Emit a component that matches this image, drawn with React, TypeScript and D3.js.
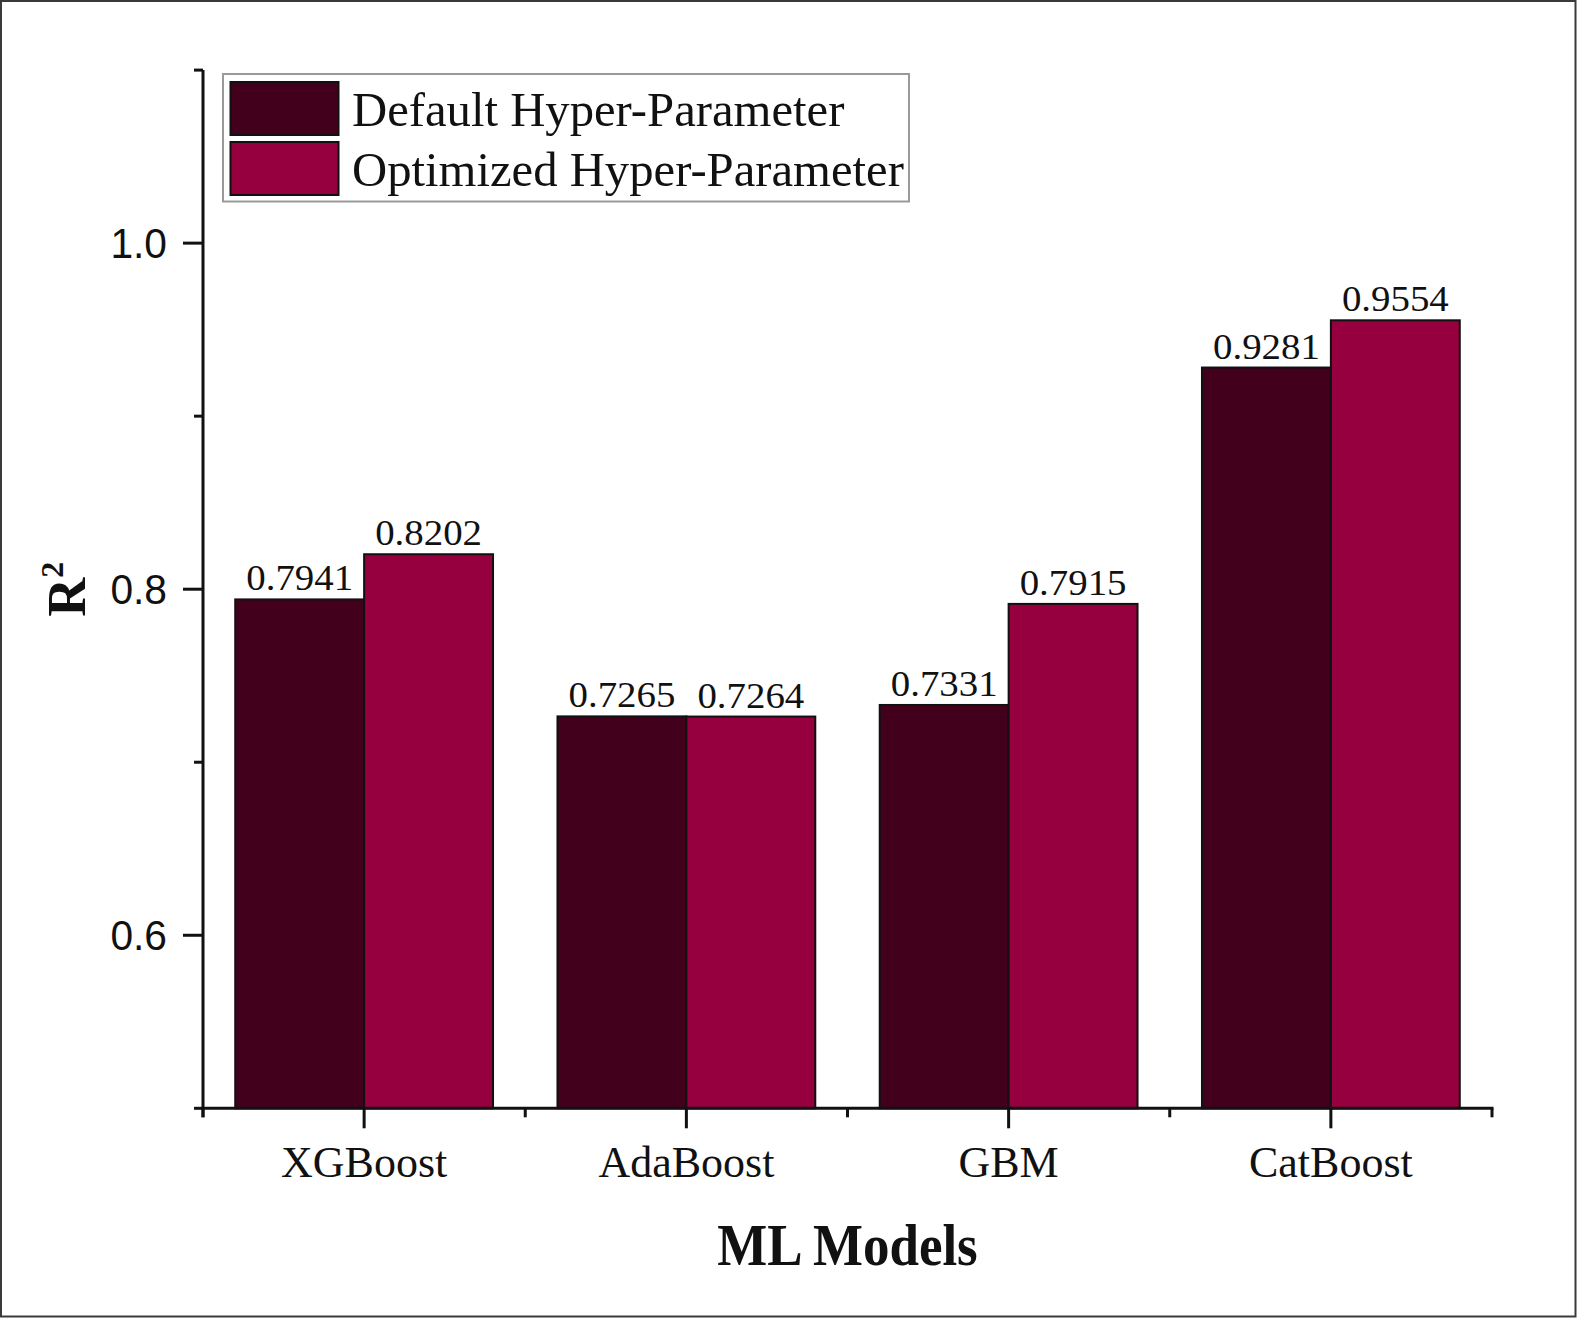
import React, { useEffect } from "react";
import * as d3 from "d3";

const categories = ["XGBoost", "AdaBoost", "GBM", "CatBoost"];
const seriesNames = ["Default Hyper-Parameter", "Optimized Hyper-Parameter"];
const defaultValues = [0.7941, 0.7265, 0.7331, 0.9281];
const optimizedValues = [0.8202, 0.7264, 0.7915, 0.9554];
const valueLabels = [
  ["0.7941", "0.7265", "0.7331", "0.9281"],
  ["0.8202", "0.7264", "0.7915", "0.9554"],
];
const majorTicks = [0.6, 0.8, 1.0];
const minorTicks = [0.5, 0.7, 0.9, 1.1];
const colors = ["#43001D", "#96003F"];

const W = 1577;
const H = 1318;
const serif = "'Liberation Serif', 'Times New Roman', serif";
const sans = "'Liberation Sans', Arial, sans-serif";

export default function App() {
  useEffect(() => {
    document.body.style.margin = "0";
    document.body.style.overflow = "hidden";
  }, []);

  const x = d3.scaleBand<string>().domain(categories).range([203, 1492]).padding(0);
  const sub = d3
    .scaleBand<number>()
    .domain([0, 1])
    .range([0, x.bandwidth()])
    .paddingInner(0)
    .paddingOuter(0.25);
  const y = d3.scaleLinear().domain([0.5, 1.1]).range([1108.3, 70.1]);
  const series = [defaultValues, optimizedValues];
  const y0 = y(0.5);
  const xLeft = x.range()[0];
  const xRight = x.range()[1];
  const boundaries = categories.map((c) => x(c) as number).concat([xRight]);

  return (
    <svg
      width={W}
      height={H}
      style={{ position: "absolute", left: 0, top: 0, background: "#fff" }}
    >
      <rect x={0} y={0} width={W} height={H} fill="#fff" />
      <rect x={1} y={1} width={W - 2.5} height={H - 2.5} fill="none" stroke="#3a3a3a" strokeWidth={2} />

      {/* bars */}
      {series.map((vals, si) =>
        categories.map((c, ci) => {
          const bx = (x(c) as number) + (sub(si) as number);
          const by = y(vals[ci]);
          return (
            <g key={`${si}-${ci}`}>
              <rect
                x={bx}
                y={by}
                width={sub.bandwidth()}
                height={y0 - by}
                fill={colors[si]}
                stroke="#111"
                strokeWidth={2}
              />
              <text
                transform={`translate(${bx + sub.bandwidth() / 2},${by - 9}) scale(1.08,1)`}
                textAnchor="middle"
                fontFamily={serif}
                fontSize={36}
                fill="#111"
              >
                {valueLabels[si][ci]}
              </text>
            </g>
          );
        })
      )}

      {/* y axis */}
      <line x1={xLeft} x2={xLeft} y1={y(1.1)} y2={y0 + 9} stroke="#111" strokeWidth={3} />
      {majorTicks.map((t) => (
        <g key={`M${t}`}>
          <line x1={xLeft - 20} x2={xLeft} y1={y(t)} y2={y(t)} stroke="#111" strokeWidth={3} />
          <text
            transform={`translate(167,${y(t) + 0.358 * 42}) scale(0.97,1.03)`}
            textAnchor="end"
            fontFamily={sans}
            fontSize={42}
            fill="#111"
          >
            {d3.format(".1f")(t)}
          </text>
        </g>
      ))}
      {minorTicks.map((t) => (
        <line key={`m${t}`} x1={xLeft - 9} x2={xLeft} y1={y(t)} y2={y(t)} stroke="#111" strokeWidth={3} />
      ))}

      {/* x axis */}
      <line x1={xLeft - 1.5} x2={xRight + 1.5} y1={y0} y2={y0} stroke="#111" strokeWidth={3} />
      {boundaries.map((b, i) => (
        <line key={`b${i}`} x1={b} x2={b} y1={y0} y2={y0 + 9} stroke="#111" strokeWidth={3} />
      ))}
      {categories.map((c) => {
        const cx = (x(c) as number) + x.bandwidth() / 2;
        return (
          <g key={c}>
            <line x1={cx} x2={cx} y1={y0} y2={y0 + 20} stroke="#111" strokeWidth={3} />
            <text x={cx} y={1177} textAnchor="middle" fontFamily={serif} fontSize={44} fill="#111">
              {c}
            </text>
          </g>
        );
      })}

      {/* axis titles */}
      <text
        transform={`translate(${(xLeft + xRight) / 2},1265) scale(1,1.12)`}
        textAnchor="middle"
        fontFamily={serif}
        fontWeight="bold"
        fontSize={53}
        fill="#111"
      >
        ML Models
      </text>
      <text
        transform={`translate(85,${(y(1.1) + y0) / 2}) rotate(-90)`}
        textAnchor="middle"
        fontFamily={serif}
        fontWeight="bold"
        fontSize={54}
        fill="#111"
      >
        R
        <tspan fontSize={32} dy={-22}>
          2
        </tspan>
      </text>

      {/* legend */}
      <rect x={223} y={74} width={686} height={127.5} fill="#fff" stroke="#9a9a9a" strokeWidth={2} />
      {seriesNames.map((s, i) => (
        <g key={s}>
          <rect
            x={230.5}
            y={82 + i * 60}
            width={108}
            height={53}
            fill={colors[i]}
            stroke="#111"
            strokeWidth={2}
          />
          <text x={352} y={126 + i * 60} fontFamily={serif} fontSize={48.7} fill="#111">
            {s}
          </text>
        </g>
      ))}
    </svg>
  );
}
